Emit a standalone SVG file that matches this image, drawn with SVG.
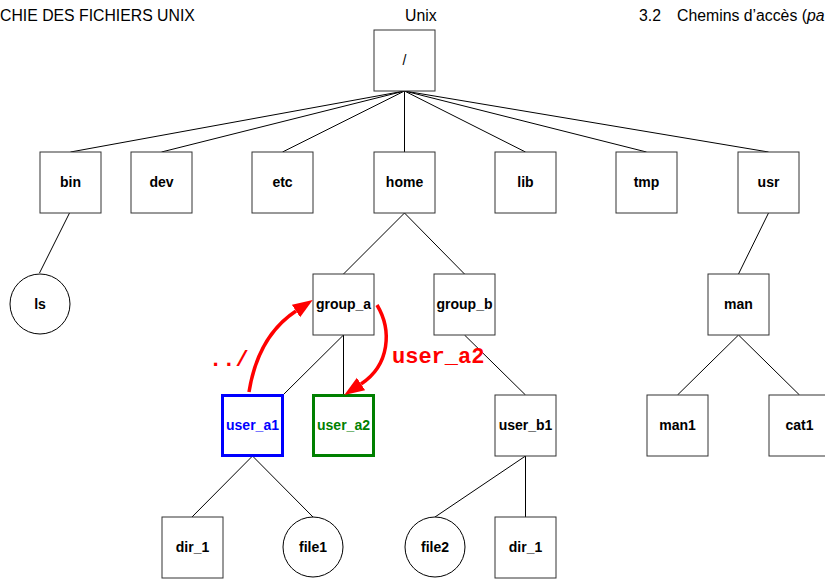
<svg xmlns="http://www.w3.org/2000/svg" width="825" height="579" viewBox="0 0 825 579">
<style>
.hdr{font-family:"Liberation Sans",Arial,sans-serif;font-size:15.8px;fill:#000}
.box{fill:#fff;stroke:#333;stroke-width:1}
.circ{fill:#fff;stroke:#000;stroke-width:1}
.lbl{font-family:"Liberation Sans",Arial,sans-serif;font-size:14px;font-weight:bold;fill:#000;text-anchor:middle}
.ln{stroke:#000;stroke-width:1;fill:none}
.red{stroke:#ff0000;stroke-width:3.5;fill:none;marker-end:url(#ah)}
.rtxt{font-family:"Liberation Mono","Courier New",monospace;font-size:22px;font-weight:bold;fill:#ff0000}
</style>
<defs>
<marker id="ah" markerUnits="userSpaceOnUse" markerWidth="22" markerHeight="16" refX="0" refY="7.5" orient="auto" viewBox="0 0 22 16">
<path d="M0,0 L20,7.5 L0,15 z" fill="#ff0000"/>
</marker>
</defs>
<rect width="825" height="579" fill="#fff"/>
<g id="header">
<text class="hdr" x="0" y="21">CHIE DES FICHIERS UNIX</text>
<text class="hdr" x="405" y="21">Unix</text>
<text class="hdr" x="639" y="21">3.2</text>
<text class="hdr" x="677" y="21">Chemins d’accès (<tspan font-style="italic">pa</tspan></text>
</g>
<g id="connectors">
<line class="ln" x1="404.5" y1="91" x2="70.5" y2="152"/>
<line class="ln" x1="404.5" y1="91" x2="161.5" y2="152"/>
<line class="ln" x1="404.5" y1="91" x2="282.5" y2="152"/>
<line class="ln" x1="404.5" y1="91" x2="404.5" y2="152"/>
<line class="ln" x1="404.5" y1="91" x2="525.5" y2="152"/>
<line class="ln" x1="404.5" y1="91" x2="646.5" y2="152"/>
<line class="ln" x1="404.5" y1="91" x2="768.5" y2="152"/>
<line class="ln" x1="70" y1="212" x2="39.5" y2="273"/>
<line class="ln" x1="404.5" y1="213" x2="343.5" y2="274"/>
<line class="ln" x1="404.5" y1="213" x2="464.5" y2="274"/>
<line class="ln" x1="768.5" y1="213" x2="738.5" y2="274"/>
<line class="ln" x1="343.5" y1="335" x2="283" y2="395"/>
<line class="ln" x1="343.5" y1="335" x2="343.5" y2="395"/>
<line class="ln" x1="464.5" y1="335" x2="525.5" y2="395"/>
<line class="ln" x1="738.5" y1="335" x2="677.5" y2="395"/>
<line class="ln" x1="738.5" y1="335" x2="799.5" y2="395"/>
<line class="ln" x1="252.5" y1="456" x2="192" y2="517"/>
<line class="ln" x1="252.5" y1="456" x2="313" y2="517"/>
<line class="ln" x1="525.5" y1="456" x2="435" y2="517"/>
<line class="ln" x1="525.5" y1="456" x2="525.5" y2="517"/>
</g>
<g id="n-root"><rect class="box" x="374" y="30" width="61" height="61"/><text class="lbl" x="404.5" y="65" style="font-weight:normal">/</text></g>
<g id="n-bin"><rect class="box" x="40" y="152" width="61" height="61"/><text class="lbl" x="70.5" y="187">bin</text></g>
<g id="n-dev"><rect class="box" x="131" y="152" width="61" height="61"/><text class="lbl" x="161.5" y="187">dev</text></g>
<g id="n-etc"><rect class="box" x="252" y="152" width="61" height="61"/><text class="lbl" x="282.5" y="187">etc</text></g>
<g id="n-home"><rect class="box" x="374" y="152" width="61" height="61"/><text class="lbl" x="404.5" y="187">home</text></g>
<g id="n-lib"><rect class="box" x="495" y="152" width="61" height="61"/><text class="lbl" x="525.5" y="187">lib</text></g>
<g id="n-tmp"><rect class="box" x="616" y="152" width="61" height="61"/><text class="lbl" x="646.5" y="187">tmp</text></g>
<g id="n-usr"><rect class="box" x="738" y="152" width="61" height="61"/><text class="lbl" x="768.5" y="187">usr</text></g>
<g id="n-ls"><circle class="circ" cx="40" cy="304" r="30"/><text class="lbl" x="40" y="309">ls</text></g>
<g id="n-group_a"><rect class="box" x="313" y="274" width="61" height="61"/><text class="lbl" x="343.5" y="309">group_a</text></g>
<g id="n-group_b"><rect class="box" x="434" y="274" width="61" height="61"/><text class="lbl" x="464.5" y="309">group_b</text></g>
<g id="n-man"><rect class="box" x="708" y="274" width="61" height="61"/><text class="lbl" x="738.5" y="309">man</text></g>
<g id="n-user_a1"><rect x="222.5" y="395.5" width="60" height="60" fill="#fff" stroke="#0000ff" stroke-width="3"/><text class="lbl" x="252.5" y="430" style="fill:#0000ff">user_a1</text></g>
<g id="n-user_a2"><rect x="313.5" y="395.5" width="60" height="60" fill="#fff" stroke="#008000" stroke-width="3"/><text class="lbl" x="343.5" y="430" style="fill:#008000">user_a2</text></g>
<g id="n-user_b1"><rect class="box" x="495" y="395" width="61" height="61"/><text class="lbl" x="525.5" y="430">user_b1</text></g>
<g id="n-man1"><rect class="box" x="647" y="395" width="61" height="61"/><text class="lbl" x="677.5" y="430">man1</text></g>
<g id="n-cat1"><rect class="box" x="769" y="395" width="61" height="61"/><text class="lbl" x="799.5" y="430">cat1</text></g>
<g id="n-dir_1a"><rect class="box" x="162" y="517" width="61" height="61"/><text class="lbl" x="192.5" y="552">dir_1</text></g>
<g id="n-file1"><circle class="circ" cx="313" cy="547" r="30"/><text class="lbl" x="313" y="552">file1</text></g>
<g id="n-file2"><circle class="circ" cx="435" cy="547" r="30"/><text class="lbl" x="435" y="552">file2</text></g>
<g id="n-dir_1b"><rect class="box" x="495" y="517" width="61" height="61"/><text class="lbl" x="525.5" y="552">dir_1</text></g>
<g id="arrows">
<path class="red" d="M249,392 Q258,336 296,311"/>
<path class="red" d="M377,305 C392,330 390,365 361,384"/>
<text class="rtxt" x="209" y="366">../</text>
<text class="rtxt" x="392" y="363">user_a2</text>
</g>
</svg>
